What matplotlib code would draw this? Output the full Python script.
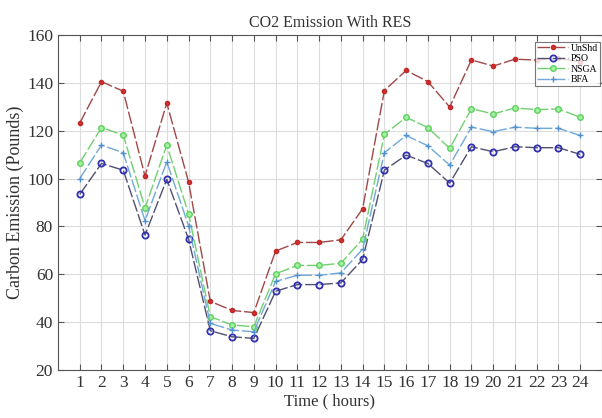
import matplotlib.pyplot as plt

# Hourly carbon emission for each scheduling method
hours = list(range(1, 25))
unshd = [123.2, 140.5, 136.5, 101.0, 131.6, 98.6, 48.7, 44.9, 44.0, 69.7, 73.3, 73.3,
         74.4, 87.4, 136.8, 145.2, 140.5, 129.9, 149.6, 147.0, 149.9, 149.5, 150.2, 148.8]
pso = [93.4, 106.3, 103.5, 76.4, 99.7, 74.7, 36.4, 33.9, 33.2, 52.9, 55.7, 55.7,
       56.4, 66.2, 103.5, 109.8, 106.3, 98.1, 113.3, 111.2, 113.3, 112.9, 112.9, 110.1]
nsga = [106.6, 121.3, 118.2, 87.7, 114.0, 85.3, 42.3, 38.8, 38.1, 60.2, 63.7, 63.7,
        64.6, 74.7, 118.5, 125.6, 121.3, 112.6, 129.2, 127.0, 129.5, 128.8, 129.1, 125.6]
bfa = [100.0, 114.0, 110.8, 82.4, 107.0, 80.3, 39.5, 36.7, 36.0, 57.0, 59.6, 59.6,
       60.6, 70.5, 110.8, 118.0, 113.7, 105.6, 121.5, 119.6, 121.5, 121.0, 121.0, 118.0]

plt.rcParams['font.family'] = ['Liberation Serif', 'DejaVu Serif']

fig = plt.figure(figsize=(6.02, 4.18), dpi=100)
ax = fig.add_axes([0.0963, 0.1148, 0.9037, 0.8015])

dash = (9, 2)
ax.plot(hours, unshd, color='#a04848', dashes=dash, lw=1.0, marker='o', ms=3,
        mfc='#d03030', mec='#c02828', label='UnShd')
ax.plot(hours, pso, color='#505070', dashes=dash, lw=1.0, marker='o', ms=4.5,
        mfc='none', mec='#3030b0', mew=1.3, label='PSO')
ax.plot(hours, nsga, color='#70d070', dashes=dash, lw=1.0, marker='o', ms=4,
        mfc='#a0f0a0', mec='#60d060', label='NSGA')
ax.plot(hours, bfa, color='#70a8d8', dashes=dash, lw=1.0, marker='+', ms=4,
        mec='#5090d0', label='BFA')

ax.set_xlim(0, 25)
ax.set_ylim(20, 160)
ax.set_xticks(hours)
ax.set_yticks(range(20, 161, 20))
ax.grid(True, color='#dcdcdc', lw=0.8)
ax.tick_params(direction='in', top=True, right=True, labelsize=12.5, length=4,
               color='#555555', labelcolor='#333333')
for s in ax.spines.values():
    s.set_color('#555555')

ax.set_title('CO2 Emission With RES', fontsize=11.5, color='#333333', pad=6)
ax.set_xlabel('Time ( hours)', fontsize=12, color='#333333', labelpad=2)
ax.set_ylabel('Carbon Emission (Pounds)', fontsize=13, color='#333333', labelpad=2)

leg = ax.legend(loc='upper right', bbox_to_anchor=(1.0, 0.985), fontsize=7,
                frameon=True, fancybox=False, handlelength=3.2, handletextpad=0.3,
                borderpad=0.2, labelspacing=0.15, borderaxespad=0.2)
leg.get_frame().set_edgecolor('#555555')
leg.get_frame().set_linewidth(0.8)

fig.savefig('out.png', dpi=100)
